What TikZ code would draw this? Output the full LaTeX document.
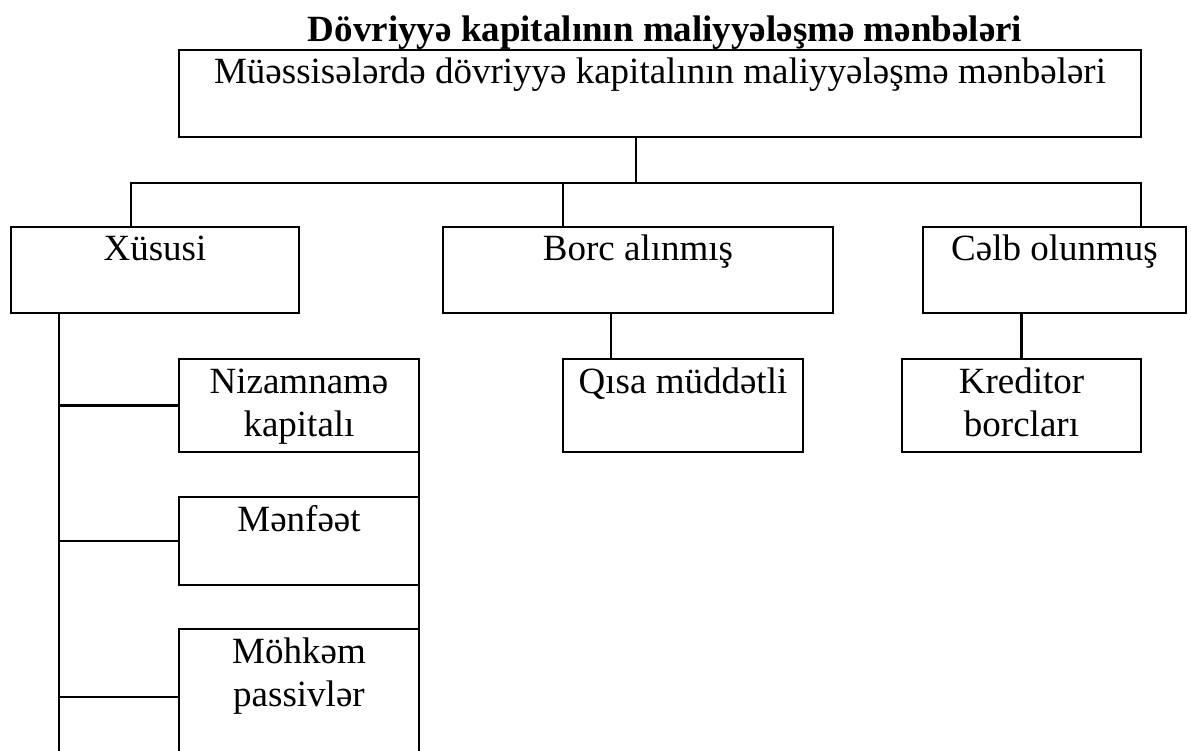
\documentclass[tikz,border=0pt]{standalone}
\usepackage{fontspec}
\setmainfont{Liberation Serif}
\usetikzlibrary{calc}
\tikzset{
  box/.style={draw, line width=2.4pt, anchor=north west, inner sep=0pt, outer sep=0pt},
  txt/.style={anchor=base, inner sep=0pt, align=center, yshift=-34pt},
  two/.style={yshift=-43pt},
}

\begin{document}
\begin{tikzpicture}[x=1pt, y=-1pt, line width=2.4pt, font=\fontsize{37}{43}\selectfont]
    \useasboundingbox (0,0) rectangle (1191,751);
    \clip (0,0) rectangle (1191,751);
    \node[anchor=base, inner sep=0pt, font=\fontsize{37}{43}\selectfont\bfseries] (T) at (665,42) {Dövriyyə kapitalının maliyyələşmə mənbələri};
    \node[box, minimum width=962pt, minimum height=87pt, label={[txt]north:Müəssisələrdə dövriyyə kapitalının maliyyələşmə mənbələri}] (M) at (179,50) {};
    \node[box, minimum width=288pt, minimum height=86pt, label={[txt]north:Xüsusi}] (X) at (11,227) {};
    \node[box, minimum width=390pt, minimum height=86pt, label={[txt]north:Borc alınmış}] (B) at (443,227) {};
    \node[box, minimum width=263pt, minimum height=86pt, label={[txt]north:Cəlb olunmuş}] (C) at (923,227) {};
    \node[box, minimum width=240pt, minimum height=93pt, label={[txt]north:Qısa müddətli}] (Q) at (563,359) {};
    \node[box, minimum width=239pt, minimum height=93pt, label={[txt,two]north:Kreditor\\borcları}] (K) at (902,359) {};
    \node[box, minimum width=240pt, minimum height=93pt, label={[txt,two]north:Nizamnamə\\kapitalı}] (N) at (179,359) {};
    \node[box, minimum width=240pt, minimum height=88pt, label={[txt]north:Mənfəət}] (P) at (179,497) {};
    \node[box, minimum width=240pt, minimum height=136pt, label={[txt,two]north:Möhkəm\\passivlər}] (H) at (179,629) {};
    % bus under the top box
    \coordinate (L) at (131,183);
    \coordinate (R) at (1141,183);
    \coordinate (J) at (636,183);
    \coordinate (D) at (563,183);
    \coordinate (S) at (59,765);
    \draw (L |- X.north) -- (L) -- (R) -- (R |- C.north);
    \draw (M.south -| J) -- (J);
    \draw (D) -- (D |- B.north);
    \draw ([xshift=48pt]Q.north west) -- ([xshift=48pt]Q.north west |- B.south);
    \draw (K.north) -- (K.north |- C.south);
    % left branch
    \draw (X.south -| S) -- (S);
    \foreach \n in {N,P,H}
        \draw (\n.west) -- (\n.west -| S);
    \draw (N.south east) -- (H.north east);
\end{tikzpicture}
\end{document}
